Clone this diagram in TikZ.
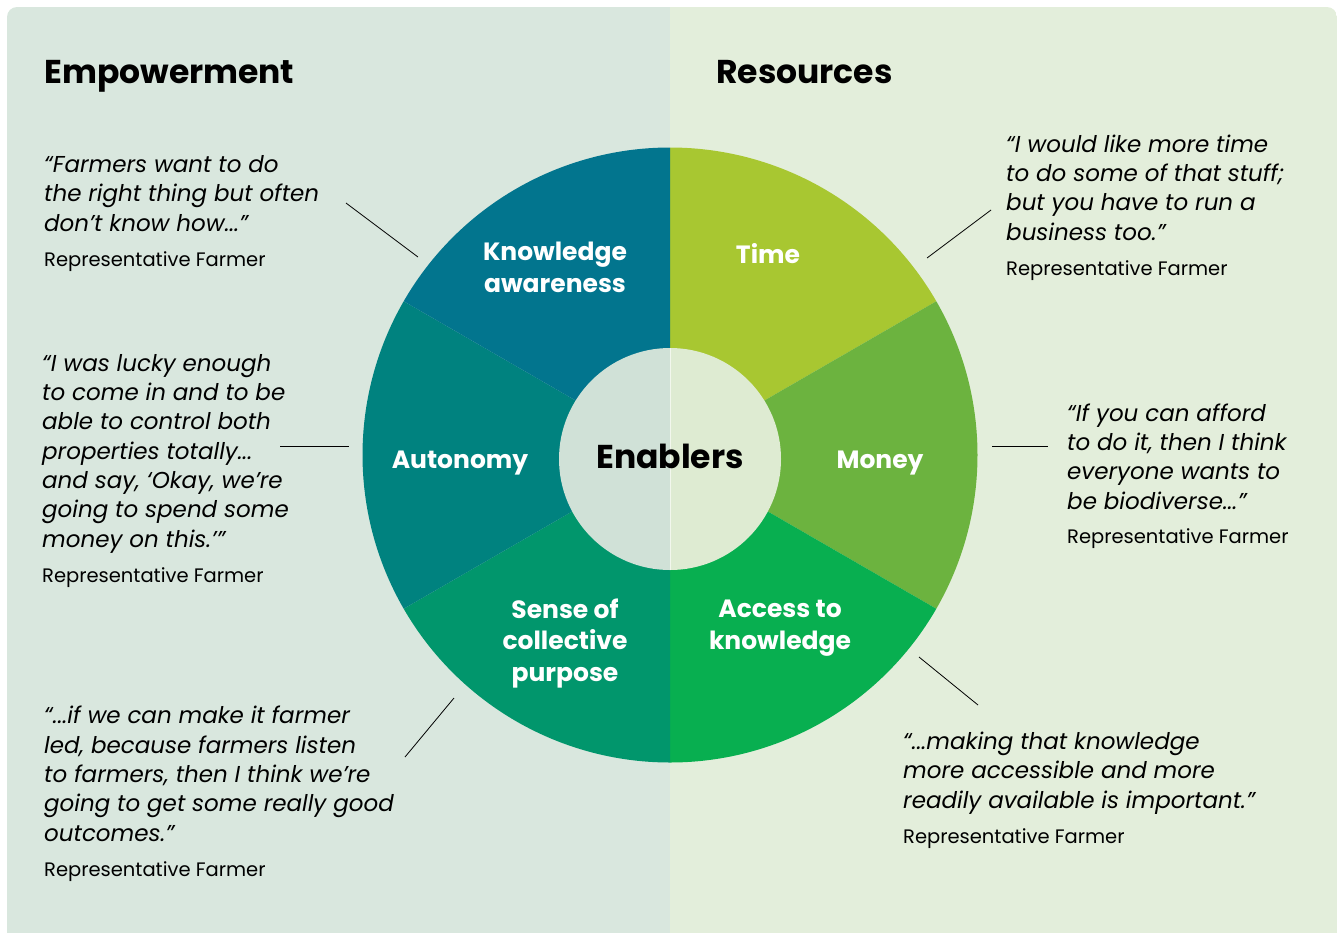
\documentclass[tikz,border=0pt]{standalone}
\usepackage{fontspec}
\setmainfont{Poppins}
\usetikzlibrary{math}

\definecolor{leftbg}{HTML}{D9E7DE}
\definecolor{rightbg}{HTML}{E3EEDB}
\definecolor{knowc}{HTML}{02758E}
\definecolor{autoc}{HTML}{00827F}
\definecolor{sensec}{HTML}{01966C}
\definecolor{accessc}{HTML}{08AF50}
\definecolor{moneyc}{HTML}{6CB33F}
\definecolor{timec}{HTML}{A8C731}
\definecolor{innerl}{HTML}{D0E1D7}
\definecolor{innerr}{HTML}{DEEBD2}

\tikzset{
  heading/.style={font=\fontsize{33}{36}\selectfont\bfseries, anchor=base west, inner sep=0},
  seglabel/.style={font=\fontsize{25}{31.5}\selectfont\bfseries, text=white, align=center, anchor=base, inner sep=0},
  quote/.style={font=\fontsize{23}{29.3}\selectfont\itshape, align=left, anchor=base west, inner sep=0},
  attrib/.style={font=\fontsize{19.5}{22}\selectfont, anchor=base west, inner sep=0},
  pointer/.style={draw=black, line width=0.8pt}
}

\begin{document}
\begin{tikzpicture}[x=1pt, y=-1pt]
  \tikzmath{\cx = 670; \cy = 455; \R = 307.5; \r = 111;}
  \useasboundingbox (0,0) rectangle (1340,932);

  % two panels
  \begin{scope}
    \clip[rounded corners=10] (7,7) rectangle (1337,960);
    \fill[leftbg] (7,7) rectangle (670,960);
    \fill[rightbg] (670,7) rectangle (1337,960);
  \end{scope}

  \node[heading] (emp) at (44,83) {Empowerment};
  \node[heading] (res) at (716,83) {Resources};

  % wheel, six sectors
  \coordinate (c) at (\cx,\cy);
  \foreach \a/\col in {-90/timec, -30/moneyc, 30/accessc, 90/sensec, 150/autoc, 210/knowc}
    \fill[\col] (c) -- ++(\a:\R) arc[start angle=\a, delta angle=60, radius=\R] -- cycle;

  % centre disc
  \coordinate (ci) at (\cx,459);
  \fill[innerl] (ci) ++(90:\r) arc[start angle=90, end angle=270, radius=\r] -- cycle;
  \fill[innerr] (ci) ++(-90:\r) arc[start angle=-90, end angle=90, radius=\r] -- cycle;
  \draw[white!60!innerr, line width=0.6pt] (\cx,348) -- (\cx,570);
  \node[font=\fontsize{33}{36}\selectfont\bfseries, anchor=base, inner sep=0] (enab) at (670,468) {Enablers};

  % labels (base = last line)
  \node[seglabel] (know) at (555,292) {Knowledge\\awareness};
  \node[seglabel] (time) at (768,263) {Time};
  \node[seglabel] (auto) at (460,468) {Autonomy};
  \node[seglabel] (money) at (880,468) {Money};
  \node[seglabel] (sense) at (565,681) {Sense of\\collective\\purpose};
  \node[seglabel] (access) at (780,649) {Access to\\knowledge};

  % quotes (base = last line)
  \node[quote] (q1) at (44,231) {“Farmers want to do\\the right thing but often\\don’t know how...”};
  \node[attrib] (a1) at (44,266) {Representative Farmer};
  \node[quote] (q2) at (1006,240) {“I would like more time\\to do some of that stuff;\\but you have to run a\\business too.”};
  \node[attrib] (a2) at (1006,275) {Representative Farmer};
  \node[quote] (q3) at (42,547) {“I was lucky enough\\to come in and to be\\able to control both\\properties totally...\\and say, ‘Okay, we’re\\going to spend some\\money on this.’”};
  \node[attrib] (a3) at (42,582) {Representative Farmer};
  \node[quote] (q4) at (1067,509) {“If you can afford\\to do it, then I think\\everyone wants to\\be biodiverse...”};
  \node[attrib] (a4) at (1067,543) {Representative Farmer};
  \node[quote] (q5) at (44,841) {“...if we can make it farmer\\led, because farmers listen\\to farmers, then I think we’re\\going to get some really good\\outcomes.”};
  \node[attrib] (a5) at (44,876) {Representative Farmer};
  \node[quote] (q6) at (903,808) {“...making that knowledge\\more accessible and more\\readily available is important.”};
  \node[attrib] (a6) at (903,843) {Representative Farmer};

  % pointer lines
  \coordinate (p1a) at (346,203); \coordinate (p1b) at (418,257);
  \coordinate (p2a) at (991,210); \coordinate (p2b) at (927,258);
  \coordinate (p3a) at (280,446); \coordinate (p3b) at (349,446);
  \coordinate (p4a) at (992,446); \coordinate (p4b) at (1048,446);
  \coordinate (p5a) at (405,757); \coordinate (p5b) at (454,698);
  \coordinate (p6a) at (919,657); \coordinate (p6b) at (978,705);
  \foreach \i in {1,...,6}
    \draw[pointer] (p\i a) -- (p\i b);
\end{tikzpicture}
\end{document}
